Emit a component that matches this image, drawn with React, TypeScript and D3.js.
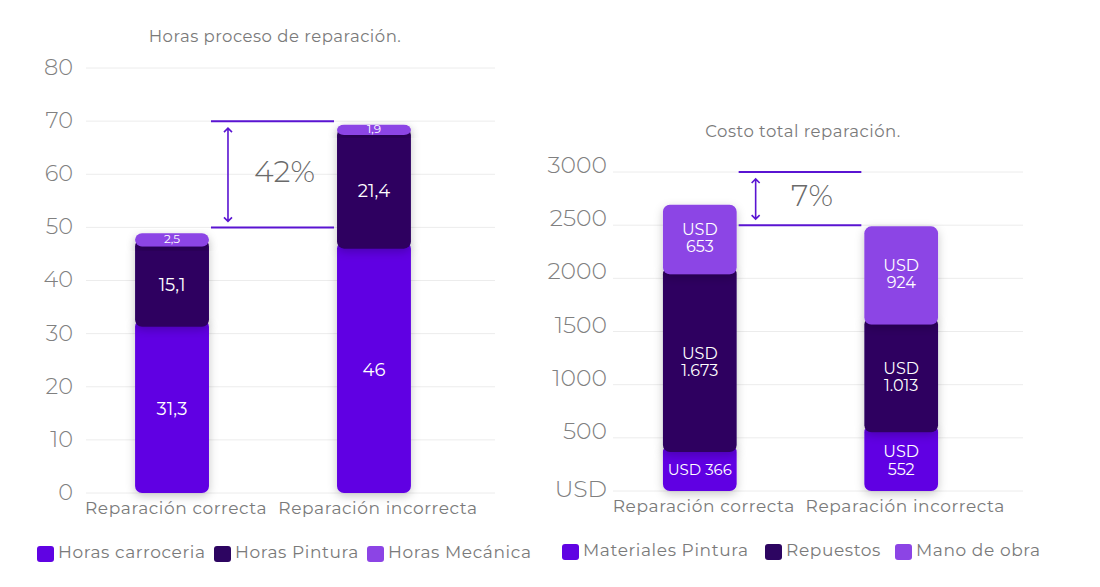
import * as React from 'react';
import * as d3 from 'd3';

const categories = ['Reparación correcta', 'Reparación incorrecta'];

// Horas proceso de reparación
const horasSeries = ['Horas carroceria', 'Horas Pintura', 'Horas Mecánica'];
const horasCarroceria = [31.3, 46];
const horasPintura = [15.1, 21.4];
const horasMecanica = [2.5, 1.9];
const horasTicks = [0, 10, 20, 30, 40, 50, 60, 70, 80];
const horasBracket = [50, 70];
const horasBracketLabel = '42%';

// Costo total reparación
const costoSeries = ['Materiales Pintura', 'Repuestos', 'Mano de obra'];
const materialesPintura = [366, 552];
const repuestos = [1673, 1013];
const manoDeObra = [653, 924];
const costoTicks = [0, 500, 1000, 1500, 2000, 2500, 3000];
const costoBracket = [2500, 3000];
const costoBracketLabel = '7%';

const colors = ['#6003e3', '#2d0561', '#8c44e5'];
const FONT = "Montserrat, 'Open Sans', sans-serif";
const GRAY = '#7a7a7a';

const locale = d3.formatLocale({decimal: ',', thousands: '.', grouping: [3], currency: ['', '']});
const fmt = locale.format(',~f');

type ChartOpts = {
  title: string;
  titleX: number;
  titleY: number;
  series: string[];
  values: number[][];
  max: number;
  ticks: number[];
  tickText: (d: number) => string;
  tickDy: (d: number) => number;
  tickGap: number;
  tickSize: number;
  yRange: [number, number];
  gridX: [number, number];
  bandRange: [number, number];
  paddingOuter: number;
  catY: number;
  labelText: (v: number, h: number) => string[];
  labelSize: (h: number) => number;
  bracket: number[];
  bracketLabel: string;
  legendX: number[];
  legendY: number;
  legendSize: number;
};

const drawChart = (svg: any, o: ChartOpts) => {
  const y = d3.scaleLinear().domain([0, o.max]).range(o.yRange);
  const x = d3
    .scaleBand<string>()
    .domain(categories)
    .range(o.bandRange)
    .paddingInner(0.634)
    .paddingOuter(o.paddingOuter);
  const bw = x.bandwidth();

  const g = svg.append('g').attr('font-family', FONT);

  g.append('text')
    .attr('x', o.titleX)
    .attr('y', o.titleY)
    .attr('text-anchor', 'middle')
    .attr('dominant-baseline', 'middle')
    .attr('fill', GRAY)
    .attr('font-size', 16.5)
    .attr('letter-spacing', 0.5)
    .text(o.title);

  // gridlines + tick labels
  g.selectAll('.grid')
    .data(o.ticks)
    .enter()
    .append('line')
    .attr('x1', o.gridX[0])
    .attr('x2', o.gridX[1])
    .attr('y1', d => y(d))
    .attr('y2', d => y(d))
    .attr('stroke', '#ececec')
    .attr('stroke-width', 1);

  g.selectAll('.tick')
    .data(o.ticks)
    .enter()
    .append('text')
    .attr('x', o.gridX[0] - o.tickGap)
    .attr('y', d => y(d) + o.tickDy(d))
    .attr('text-anchor', 'end')
    .attr('dominant-baseline', 'middle')
    .attr('fill', '#808080')
    .attr('font-size', o.tickSize)
    .attr('font-weight', 300)
    .text(o.tickText);

  // stacked bars
  const rows = categories.map((c, i) => {
    const r: any = {cat: c};
    o.series.forEach((s, k) => (r[s] = o.values[k][i]));
    return r;
  });
  const stacked = d3.stack<any>().keys(o.series)(rows);
  const rad = 7;

  stacked.forEach((layer, k) => {
    const isTop = k === stacked.length - 1;
    g.selectAll(null)
      .data(layer)
      .enter()
      .append('rect')
      .attr('x', d => x(d.data.cat)!)
      .attr('width', bw)
      .attr('y', d => y(d[1]) - (isTop ? 0 : rad))
      .attr('height', d => y(d[0]) - y(d[1]) + (isTop ? 0 : rad))
      .attr('rx', rad)
      .attr('fill', colors[k])
      .attr('filter', 'url(#segShadow)');
  });

  stacked.forEach(layer => {
    layer.forEach(d => {
      const v = d[1] - d[0];
      const h = y(d[0]) - y(d[1]);
      const lines = o.labelText(v, h);
      const fs = o.labelSize(h);
      const lh = fs * 1.1;
      const cy = (y(d[0]) + y(d[1])) / 2;
      lines.forEach((t, li) => {
        g.append('text')
          .attr('x', x(d.data.cat)! + bw / 2)
          .attr('y', cy + (li - (lines.length - 1) / 2) * lh)
          .attr('text-anchor', 'middle')
          .attr('dominant-baseline', 'middle')
          .attr('fill', '#fff')
          .attr('font-size', fs)
          .text(t);
      });
    });
  });

  // category labels
  g.selectAll('.cat')
    .data(categories)
    .enter()
    .append('text')
    .attr('x', d => x(d)! + bw / 2 + 4)
    .attr('y', o.catY)
    .attr('text-anchor', 'middle')
    .attr('dominant-baseline', 'middle')
    .attr('fill', GRAY)
    .attr('font-size', 17)
    .attr('letter-spacing', 0.6)
    .text(d => d);

  // bracket annotation between bars
  const bx0 = x(categories[0])! + bw + 2;
  const bx1 = x(categories[1])! - 3;
  const [lo, hi] = o.bracket;
  g.selectAll('.br')
    .data(o.bracket)
    .enter()
    .append('line')
    .attr('x1', bx0)
    .attr('x2', bx1)
    .attr('y1', d => y(d))
    .attr('y2', d => y(d))
    .attr('stroke', '#5a14d2')
    .attr('stroke-width', 2);
  const ax = bx0 + 17;
  const ay0 = y(hi) + 7;
  const ay1 = y(lo) - 6;
  g.append('path')
    .attr(
      'd',
      `M${ax},${ay0}V${ay1}M${ax - 4},${ay0 + 4}L${ax},${ay0}L${ax + 4},${ay0 + 4}` +
        `M${ax - 4},${ay1 - 4}L${ax},${ay1}L${ax + 4},${ay1 - 4}`
    )
    .attr('fill', 'none')
    .attr('stroke', '#5a14d2')
    .attr('stroke-width', 1.6);
  g.append('text')
    .attr('x', (bx0 + bx1) / 2 + 12)
    .attr('y', (y(lo) + y(hi)) / 2)
    .attr('text-anchor', 'middle')
    .attr('dominant-baseline', 'middle')
    .attr('fill', '#6a6a6a')
    .attr('font-size', 30)
    .attr('font-weight', 300)
    .text(o.bracketLabel);

  // legend
  o.series.forEach((s, k) => {
    const lx = o.legendX[k];
    g.append('rect')
      .attr('x', lx)
      .attr('y', o.legendY - 8)
      .attr('width', 17)
      .attr('height', 16)
      .attr('rx', 3)
      .attr('fill', colors[k]);
    g.append('text')
      .attr('x', lx + 21)
      .attr('y', o.legendY)
      .attr('dominant-baseline', 'middle')
      .attr('fill', GRAY)
      .attr('font-size', o.legendSize)
      .attr('letter-spacing', 0.6)
      .text(s);
  });
};

export default function App() {
  const ref = React.useRef<SVGSVGElement>(null);

  React.useEffect(() => {
    const svg = d3.select(ref.current);
    svg.selectAll('*').remove();

    const defs = svg.append('defs');
    defs
      .append('filter')
      .attr('id', 'segShadow')
      .attr('x', '-30%')
      .attr('y', '-30%')
      .attr('width', '160%')
      .attr('height', '160%')
      .append('feDropShadow')
      .attr('dx', 0)
      .attr('dy', 3)
      .attr('stdDeviation', 5)
      .attr('flood-color', '#000')
      .attr('flood-opacity', 0.22);

    drawChart(svg, {
      title: 'Horas proceso de reparación.',
      titleX: 275,
      titleY: 38,
      series: horasSeries,
      values: [horasCarroceria, horasPintura, horasMecanica],
      max: 80,
      ticks: horasTicks,
      tickText: d => String(d),
      tickDy: () => 1,
      tickGap: 13,
      tickSize: 22.5,
      yRange: [493, 68],
      gridX: [86, 495],
      bandRange: [86, 460],
      paddingOuter: 0.243,
      catY: 510,
      labelText: v => [fmt(v)],
      labelSize: h => (h < 20 ? 12 : h < 30 ? 14 : 18),
      bracket: horasBracket,
      bracketLabel: horasBracketLabel,
      legendX: [37, 214, 367],
      legendY: 554,
      legendSize: 17
    });

    drawChart(svg, {
      title: 'Costo total reparación.',
      titleX: 803,
      titleY: 133,
      series: costoSeries,
      values: [materialesPintura, repuestos, manoDeObra],
      max: 3000,
      ticks: costoTicks,
      tickText: d => (d === 0 ? 'USD' : String(d)),
      tickDy: d => (d === 0 ? 0 : -5),
      tickGap: 6,
      tickSize: 23.5,
      yRange: [491, 172],
      gridX: [613, 1023],
      bandRange: [613, 988],
      paddingOuter: 0.248,
      catY: 508,
      labelText: (v, h) => (h < 45 ? ['USD ' + fmt(v)] : ['USD', fmt(v)]),
      labelSize: h => (h < 45 ? 15 : 16),
      bracket: costoBracket,
      bracketLabel: costoBracketLabel,
      legendX: [562, 765, 895],
      legendY: 552,
      legendSize: 17
    });
  }, []);

  return (
    <svg
      ref={ref}
      width={1100}
      height={587}
      style={{position: 'absolute', left: 0, top: 0, background: '#fff'}}
    />
  );
}
